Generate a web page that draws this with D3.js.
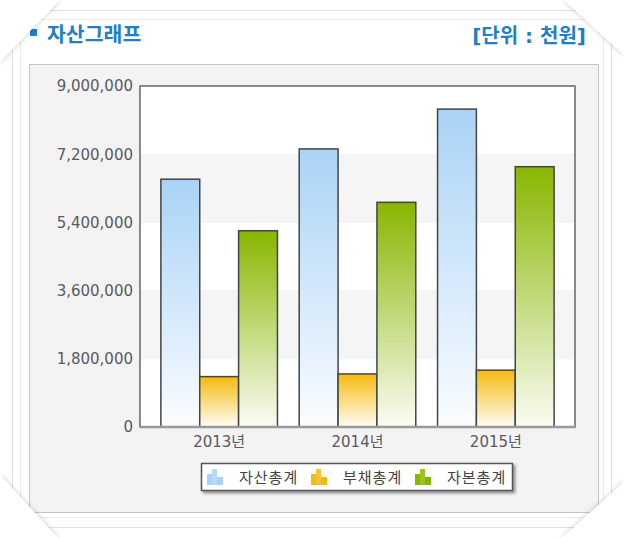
<!DOCTYPE html>
<html>
<head>
<meta charset="utf-8">
<script src="https://cdn.jsdelivr.net/npm/d3@7"></script>
<style>
  body { margin: 0; background: #fff; }
  svg { display: block; }
  text { font-family: "DejaVu Sans", Verdana, "Noto Sans CJK KR", sans-serif; }
</style>
</head>
<body>
<svg id="chart" width="624" height="538"></svg>
<script>
// data (unit: thousand won)
var years = ['2013년', '2014년', '2015년'];
var seriesNames = ['자산총계', '부채총계', '자본총계'];
var assets = [6540000, 7340000, 8390000];
var liabilities = [1330000, 1400000, 1500000];
var equity = [5180000, 5930000, 6870000];
var yTicks = [0, 1800000, 3600000, 5400000, 7200000, 9000000];

var colors = {
  '자산총계': ['#a9d3f6', '#fbfdff'],
  '부채총계': ['#f5ba0e', '#fffdf6'],
  '자본총계': ['#88b600', '#fbfcf4']
};

var svg = d3.select('#chart');

var defs = svg.append('defs');
seriesNames.forEach(function(s, i) {
  var g = defs.append('linearGradient')
    .attr('id', 'grad' + i)
    .attr('x1', 0).attr('y1', 0).attr('x2', 0).attr('y2', 1);
  g.append('stop').attr('offset', '0%').attr('stop-color', colors[s][0]);
  g.append('stop').attr('offset', '100%').attr('stop-color', colors[s][1]);
});
var sh = defs.append('filter').attr('id', 'shadow')
  .attr('x', '-10%').attr('y', '-20%').attr('width', '130%').attr('height', '160%');
sh.append('feDropShadow').attr('dx', 2).attr('dy', 2).attr('stdDeviation', 1.5)
  .attr('flood-color', '#000').attr('flood-opacity', 0.45);
var cs = defs.append('filter').attr('id', 'cornerShadow')
  .attr('x', '-50%').attr('y', '-50%').attr('width', '200%').attr('height', '200%');
cs.append('feDropShadow').attr('dx', 0).attr('dy', 0).attr('stdDeviation', 2.5)
  .attr('flood-color', '#000').attr('flood-opacity', 0.25);

// decorative frame
svg.append('rect').attr('x', 12.5).attr('y', 10.5).attr('width', 599).attr('height', 517)
  .attr('fill', 'none').attr('stroke', '#e2e2e2');
svg.append('rect').attr('x', 20.5).attr('y', 19.5).attr('width', 583).attr('height', 498)
  .attr('fill', 'none').attr('stroke', '#ebebeb');

// title
svg.append('rect').attr('x', 30).attr('y', 29).attr('width', 7).attr('height', 7)
  .attr('fill', '#1f7fce');
svg.append('text').attr('x', 47).attr('y', 42)
  .attr('font-family', '"Noto Sans CJK KR", sans-serif')
  .attr('font-weight', 'bold').attr('font-size', 20.5)
  .attr('fill', '#1f7fc9').text('자산그래프');
svg.append('text').attr('x', 586).attr('y', 43)
  .attr('text-anchor', 'end')
  .attr('font-family', '"Noto Sans CJK KR", sans-serif')
  .attr('font-weight', 'bold').attr('font-size', 20)
  .attr('fill', '#1f7fc9').text('[단위 : 천원]');

// chart panel
svg.append('rect').attr('x', 29.5).attr('y', 64.5).attr('width', 569).attr('height', 448)
  .attr('fill', '#f3f3f3').attr('stroke', '#c4c4c4');

var margin = { left: 140, right: 575, top: 86, bottom: 427 };

var y = d3.scaleLinear().domain([0, 9000000]).range([margin.bottom, margin.top]);
var x0 = d3.scaleBand().domain(years).range([margin.left + 10, margin.right - 10]);
var x1 = d3.scaleBand().domain(seriesNames).range([0, x0.bandwidth()]).paddingOuter(0.28);

// plot background and alternating bands
svg.append('rect')
  .attr('x', margin.left).attr('y', margin.top)
  .attr('width', margin.right - margin.left).attr('height', margin.bottom - margin.top)
  .attr('fill', '#fff');
var bandPairs = d3.pairs(yTicks).filter(function(d, i) { return i % 2 === 1; });
svg.selectAll('.band').data(bandPairs).enter().append('rect')
  .attr('class', 'band')
  .attr('x', margin.left)
  .attr('y', function(d) { return y(d[1]); })
  .attr('width', margin.right - margin.left)
  .attr('height', function(d) { return y(d[0]) - y(d[1]); })
  .attr('fill', '#f5f5f5');
svg.selectAll('.gline').data(yTicks.slice(1, -1)).enter().append('line')
  .attr('x1', margin.left).attr('x2', margin.right)
  .attr('y1', function(d) { return y(d); }).attr('y2', function(d) { return y(d); })
  .attr('stroke', '#eef5fb');

// bars
var table = years.map(function(yr, i) {
  return { year: yr, values: [assets[i], liabilities[i], equity[i]] };
});
var groups = svg.selectAll('.grp').data(table).enter().append('g')
  .attr('transform', function(d) { return 'translate(' + x0(d.year) + ',0)'; });
groups.selectAll('rect')
  .data(function(d) { return d.values.map(function(v, i) { return { name: seriesNames[i], value: v, i: i }; }); })
  .enter().append('rect')
  .attr('x', function(d) { return x1(d.name); })
  .attr('y', function(d) { return y(d.value); })
  .attr('width', x1.bandwidth())
  .attr('height', function(d) { return margin.bottom - y(d.value); })
  .attr('fill', function(d) { return 'url(#grad' + d.i + ')'; })
  .attr('stroke', '#444')
  .attr('stroke-width', 1.5);

// plot border
svg.append('rect')
  .attr('x', margin.left).attr('y', margin.top)
  .attr('width', margin.right - margin.left).attr('height', margin.bottom - margin.top)
  .attr('fill', 'none').attr('stroke', '#666').attr('stroke-width', 1.5);
svg.append('line').attr('x1', margin.left).attr('x2', margin.right + 1)
  .attr('y1', margin.bottom).attr('y2', margin.bottom)
  .attr('stroke', '#999').attr('stroke-width', 2.5);

// axes
var yAxis = svg.append('g')
  .attr('transform', 'translate(' + margin.left + ',0)')
  .call(d3.axisLeft(y).tickValues(yTicks).tickSize(0).tickPadding(7)
    .tickFormat(d3.format(',')));
yAxis.select('.domain').remove();
yAxis.selectAll('text').attr('font-size', 15).attr('fill', '#5a5a5a')
  .attr('font-family', '"DejaVu Sans", Verdana, sans-serif');

var xAxis = svg.append('g')
  .attr('transform', 'translate(0,' + margin.bottom + ')')
  .call(d3.axisBottom(x0).tickSize(0).tickPadding(9));
xAxis.select('.domain').remove();
xAxis.selectAll('text').attr('font-size', 15).attr('fill', '#5a5a5a')
  .attr('font-family', '"DejaVu Sans", Verdana, "Noto Sans CJK KR", sans-serif');

// legend
var legend = svg.append('g');
legend.append('rect').attr('x', 201.5).attr('y', 463.5).attr('width', 311).attr('height', 27)
  .attr('fill', '#fff').attr('stroke', '#555').attr('stroke-width', 1.5)
  .attr('filter', 'url(#shadow)');
var legX = [207, 311, 415];
seriesNames.forEach(function(s, i) {
  var g = legend.append('g').attr('transform', 'translate(' + legX[i] + ',469)');
  var c = colors[s][0];
  g.append('rect').attr('x', 0).attr('y', 5).attr('width', 5).attr('height', 11).attr('fill', c);
  g.append('rect').attr('x', 5).attr('y', 0).attr('width', 5).attr('height', 16).attr('fill', c).attr('opacity', 0.85);
  g.append('rect').attr('x', 10).attr('y', 8).attr('width', 6).attr('height', 8).attr('fill', c);
  g.append('text').attr('x', 32).attr('y', 14)
    .attr('font-family', '"Noto Sans CJK KR", sans-serif')
    .attr('font-size', 15).attr('fill', '#444')
    .attr('letter-spacing', 1)
    .text(s);
});

// corner flaps (page-curl look)
var flaps = [
  [[0, 0], [60, 0], [0, 62]],
  [[624, 0], [564, 0], [624, 55]],
  [[0, 538], [0, 475], [58, 538]],
  [[624, 538], [624, 482], [562, 538]]
];
flaps.forEach(function(f) {
  svg.append('polygon')
    .attr('points', f.map(function(p) { return p.join(','); }).join(' '))
    .attr('fill', '#fff')
    .attr('filter', 'url(#cornerShadow)');
});
</script>
</body>
</html>
